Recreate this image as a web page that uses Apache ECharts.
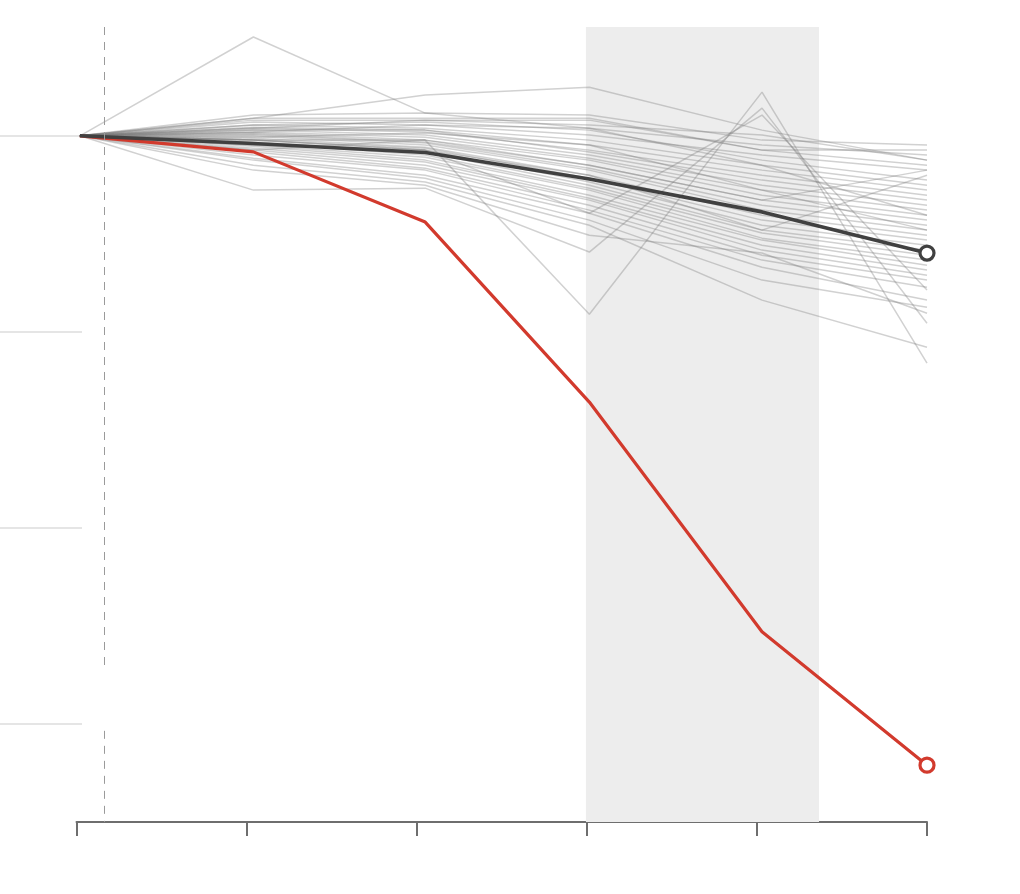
<!DOCTYPE html>
<html><head><meta charset="utf-8">
<script src="https://cdn.jsdelivr.net/npm/echarts@6/dist/echarts.min.js"></script>
<style>html,body{margin:0;padding:0;background:#fff}#c{width:1020px;height:894px}</style>
</head><body><div id="c"></div>
<script>
// x positions of the observations (axis ticks are at 0..5)
const xPositions = [0.02, 1.04, 2.05, 3.015, 4.03, 5.0];
const xTicks = [0, 1, 2, 3, 4, 5];
const yMin = -35, yMax = 5.55;
// highlighted series
const redValues = [0, -0.82, -4.4, -13.58, -25.3, -32.1];
const averageValues = [0, -0.39, -0.85, -2.2, -3.88, -5.98];
// shaded period and dashed reference line
const bandStart = 2.995, bandEnd = 4.365;
const refLineX = 0.162;
const refSegments = [[5.55, -27.0], [-30.35, -35]];
// other (grey) series
const peerSeries = [
  [0, 1.06, 1.16, 1.06, -0.22, -0.47],
  [0, 0.90, 0.90, 0.90, -0.73, -0.73],
  [0, 0.80, 0.80, 0.55, 0.04, -1.24],
  [0, 0.70, 0.55, 0.04, -0.98, -1.75],
  [0, 0.55, 0.70, 0.29, -1.24, -2.26],
  [0, 0.55, 0.39, -0.22, -1.50, -2.52],
  [0, 0.44, 0.29, -0.47, -1.75, -2.77],
  [0, 0.39, 0.19, -0.73, -2.01, -3.03],
  [0, 0.29, 0.29, -0.83, -2.26, -3.28],
  [0, 0.29, 0.04, -0.98, -2.52, -3.54],
  [0, 0.19, -0.07, -1.14, -2.77, -3.79],
  [0, 0.14, -0.22, -1.24, -3.03, -4.05],
  [0, 0.09, -0.32, -1.50, -3.28, -4.30],
  [0, 0.04, -0.37, -1.65, -3.54, -4.56],
  [0, -0.02, -0.47, -1.75, -3.79, -4.81],
  [0, -0.12, -0.58, -2.01, -4.05, -5.07],
  [0, -0.22, -0.63, -2.16, -4.30, -5.32],
  [0, -0.22, -0.73, -2.36, -4.56, -5.58],
  [0, -0.32, -0.83, -2.52, -4.81, -5.83],
  [0, -0.37, -0.98, -2.67, -4.96, -6.09],
  [0, -0.47, -1.09, -2.77, -5.22, -6.34],
  [0, -0.53, -1.24, -3.03, -5.32, -6.60],
  [0, -0.63, -1.34, -3.18, -5.58, -6.85],
  [0, -0.73, -1.50, -3.28, -5.83, -7.11],
  [0, -0.83, -1.65, -3.54, -6.09, -7.36],
  [0, -0.98, -1.75, -3.79, -6.34, -7.72],
  [0, -1.14, -2.01, -3.95, -6.70, -8.38],
  [0, -1.24, -2.16, -4.30, -7.36, -8.74],
  [0, -1.50, -2.36, -4.56, -8.38, -10.78],
  [0, -1.75, -2.52, -5.07, -5.98, -9.05],
  [0, -0.73, -0.22, -1.50, -3.28, -1.75],
  [0, -0.47, -0.73, -2.01, -4.81, -2.01],
  [0, -0.22, -0.73, -3.95, 1.06, -7.87],
  [0, 0.39, 0.80, 0.80, -0.73, -1.50],
  [0, 0.19, 0.55, 0.39, -0.47, -0.98],
  [0, -0.07, 0.14, -0.47, -2.77, -4.81],
  [0, 5.04, 1.16, 0.39, -1.50, -4.05],
  [0, -2.77, -2.67, -5.93, 1.41, -9.56],
  [0, -0.22, -0.22, -9.10, 2.23, -11.60],
  [0, 0.90, 2.08, 2.48, 0.29, -1.24]
];

const chart = echarts.init(document.getElementById('c'), null, {renderer: 'canvas'});
const toPoints = vals => vals.map((v, i) => [xPositions[i], v]);
const withEndMarker = (vals, color) => vals.map((v, i) => i === vals.length - 1
  ? {value: [xPositions[i], v], symbol: 'circle', symbolSize: 14,
     itemStyle: {color: '#fff', borderColor: color, borderWidth: 3.2}}
  : {value: [xPositions[i], v], symbol: 'none'});

const series = [];
series.push({
  type: 'line', xAxisIndex: 0, yAxisIndex: 0, data: [], z: 1, silent: true,
  markArea: {silent: true, itemStyle: {color: '#ededed'}, data: [[{xAxis: bandStart}, {xAxis: bandEnd}]]},
  markLine: {silent: true, symbol: ['none', 'none'], label: {show: false},
    lineStyle: {color: '#9a9a9a', width: 1, type: [8, 7]},
    data: refSegments.map(s => [{coord: [refLineX, s[0]]}, {coord: [refLineX, s[1]]}])}
});
peerSeries.forEach(vals => series.push({
  type: 'line', xAxisIndex: 0, yAxisIndex: 0, data: toPoints(vals), symbol: 'none', z: 2,
  silent: true, lineStyle: {color: 'rgba(120,120,120,0.34)', width: 1.5}
}));
series.push({
  type: 'line', xAxisIndex: 0, yAxisIndex: 0, data: withEndMarker(redValues, '#d23a2d'), z: 3,
  showSymbol: true, lineStyle: {color: '#d23a2d', width: 3.2}, itemStyle: {color: '#d23a2d'}
});
series.push({
  type: 'line', xAxisIndex: 0, yAxisIndex: 0, data: withEndMarker(averageValues, '#404040'), z: 4,
  showSymbol: true, lineStyle: {color: '#404040', width: 3.6}, itemStyle: {color: '#404040'}
});

chart.setOption({
  animation: false,
  backgroundColor: '#fff',
  grid: [
    {left: 76.5, right: 93, top: 27, bottom: 72},
    {left: 0, width: 82, top: 27, bottom: 72}
  ],
  xAxis: [
    {gridIndex: 0, type: 'value', min: xTicks[0], max: xTicks[xTicks.length - 1], interval: 1,
     axisLine: {show: true, onZero: false, lineStyle: {color: '#6e6e6e', width: 2}},
     axisTick: {show: true, length: 14, inside: false, lineStyle: {color: '#6e6e6e', width: 2}},
     axisLabel: {show: false}, splitLine: {show: false}},
    {gridIndex: 1, type: 'value', min: 0, max: 1, show: false}
  ],
  yAxis: [
    {gridIndex: 0, type: 'value', min: yMin, max: yMax, show: false, splitLine: {show: false}},
    {gridIndex: 1, type: 'value', min: yMin, max: yMax,
     axisLine: {show: false}, axisTick: {show: false}, axisLabel: {show: false},
     splitLine: {show: true, showMinLine: false, showMaxLine: false,
       lineStyle: {color: '#dcdcdc', width: 1.5}}}
  ],
  series: series
});
</script>
</body></html>
